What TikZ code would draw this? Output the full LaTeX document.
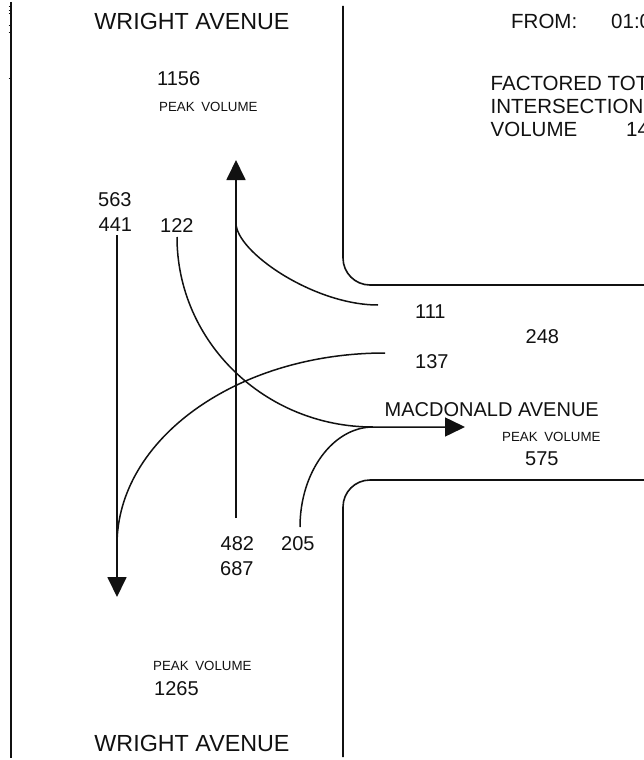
\documentclass[tikz,border=0pt]{standalone}
\usepackage{fontspec}
\setmainfont{Liberation Sans}
\usetikzlibrary{arrows.meta}
\definecolor{ink}{HTML}{111111}
\tikzset{
  calle/.style={inner sep=0pt,anchor=base,font=\fontsize{23.3}{26}\selectfont,color=ink},
  rotulo/.style={inner sep=0pt,anchor=base west,font=\fontsize{20.5}{24}\selectfont,color=ink},
  cifra/.style={inner sep=0pt,anchor=base west,font=\fontsize{20}{24}\selectfont,color=ink},
  etiqueta/.style={inner sep=0pt,anchor=base west,font=\fontsize{13.3}{16}\selectfont,color=ink},
  bordillo/.style={line width=1.6pt,color=ink,rounded corners=27pt},
  flecha/.style={-{Triangle[length=20pt,width=19pt]},line width=1.8pt,color=ink},
  giro/.style={line width=1.5pt,color=ink},
}

\begin{document}
\begin{tikzpicture}[x=1pt,y=-1pt]
  \useasboundingbox (0,0) rectangle (644,760);
  \draw[line width=1.8pt,ink] (11,2) -- (11,758);
  \foreach \y in {7,11,14,26,33,78}
    \draw[line width=1pt,ink] (8.5,\y) -- (11,\y);
  \draw[bordillo] (343,6) -- (343,285) -- (650,285);
  \draw[bordillo] (650,480) -- (343,480) -- (343,757);
  \node[calle] (wrN) at (192,30) {WRIGHT AVENUE};
  \node[calle] (wrS) at (192,751.5) {WRIGHT AVENUE};
  \node[calle,anchor=base west,font=\fontsize{20}{24}\selectfont] (mac) at (384.5,416.7) {MACDONALD AVENUE};
  \node[etiqueta] (pvN) at (159,111.7) {PEAK\enspace VOLUME};
  \node[etiqueta] (pvE) at (502,441.7) {PEAK\enspace VOLUME};
  \node[etiqueta] (pvS) at (153,670) {PEAK\enspace VOLUME};
  \foreach \n/\x/\y in {1156/157/85,1265/154/695,563/98/206.7,441/98.5/231.7,122/160/232,
    482/220.5/550,205/281/550,687/220/575,111/415/318,137/415/368,248/525.5/343,575/525/465}
    \node[cifra] (v\n) at (\x,\y) {\n};
  \node[rotulo] (desde) at (511,28.3) {FROM:};
  \node[rotulo] (hora) at (611,28.3) {01:0};
  \node[rotulo] (tot1) at (490.5,90) {FACTORED TOT};
  \node[rotulo] (tot2) at (490.5,113) {INTERSECTION};
  \node[rotulo] (tot3) at (490.5,136.7) {VOLUME};
  \node[rotulo] (total) at (626,136.7) {14};
  \coordinate (pS) at (117,597);
  \coordinate (pN) at (236,160);
  \coordinate (pE) at (465,427);
  \coordinate (jE) at (373,427);
  \coordinate (jN) at (236,223);
  \coordinate (jS) at (117,545);
  \coordinate (a441) at (117,235);
  \coordinate (a482) at (236,518);
  \coordinate (a122) at (177,237);
  \coordinate (a205) at (300,527);
  \coordinate (a111) at (378,305);
  \coordinate (a137) at (385,353);
  \draw[flecha] (a441) -- (pS);
  \draw[flecha] (a482) -- (pN);
  \draw[flecha,line width=1.5pt] (a122) .. controls +(0,105) and +(-108,0) .. (jE) -- (pE);
  \draw[giro] (a205) .. controls +(0,-55) and +(-40,0) .. (jE);
  \draw[giro] (jN) .. controls +(0,29) and +(-64,0) .. (a111);
  \draw[giro] (a137) .. controls +(-148,0) and +(0,-106) .. (jS);
\end{tikzpicture}
\end{document}
